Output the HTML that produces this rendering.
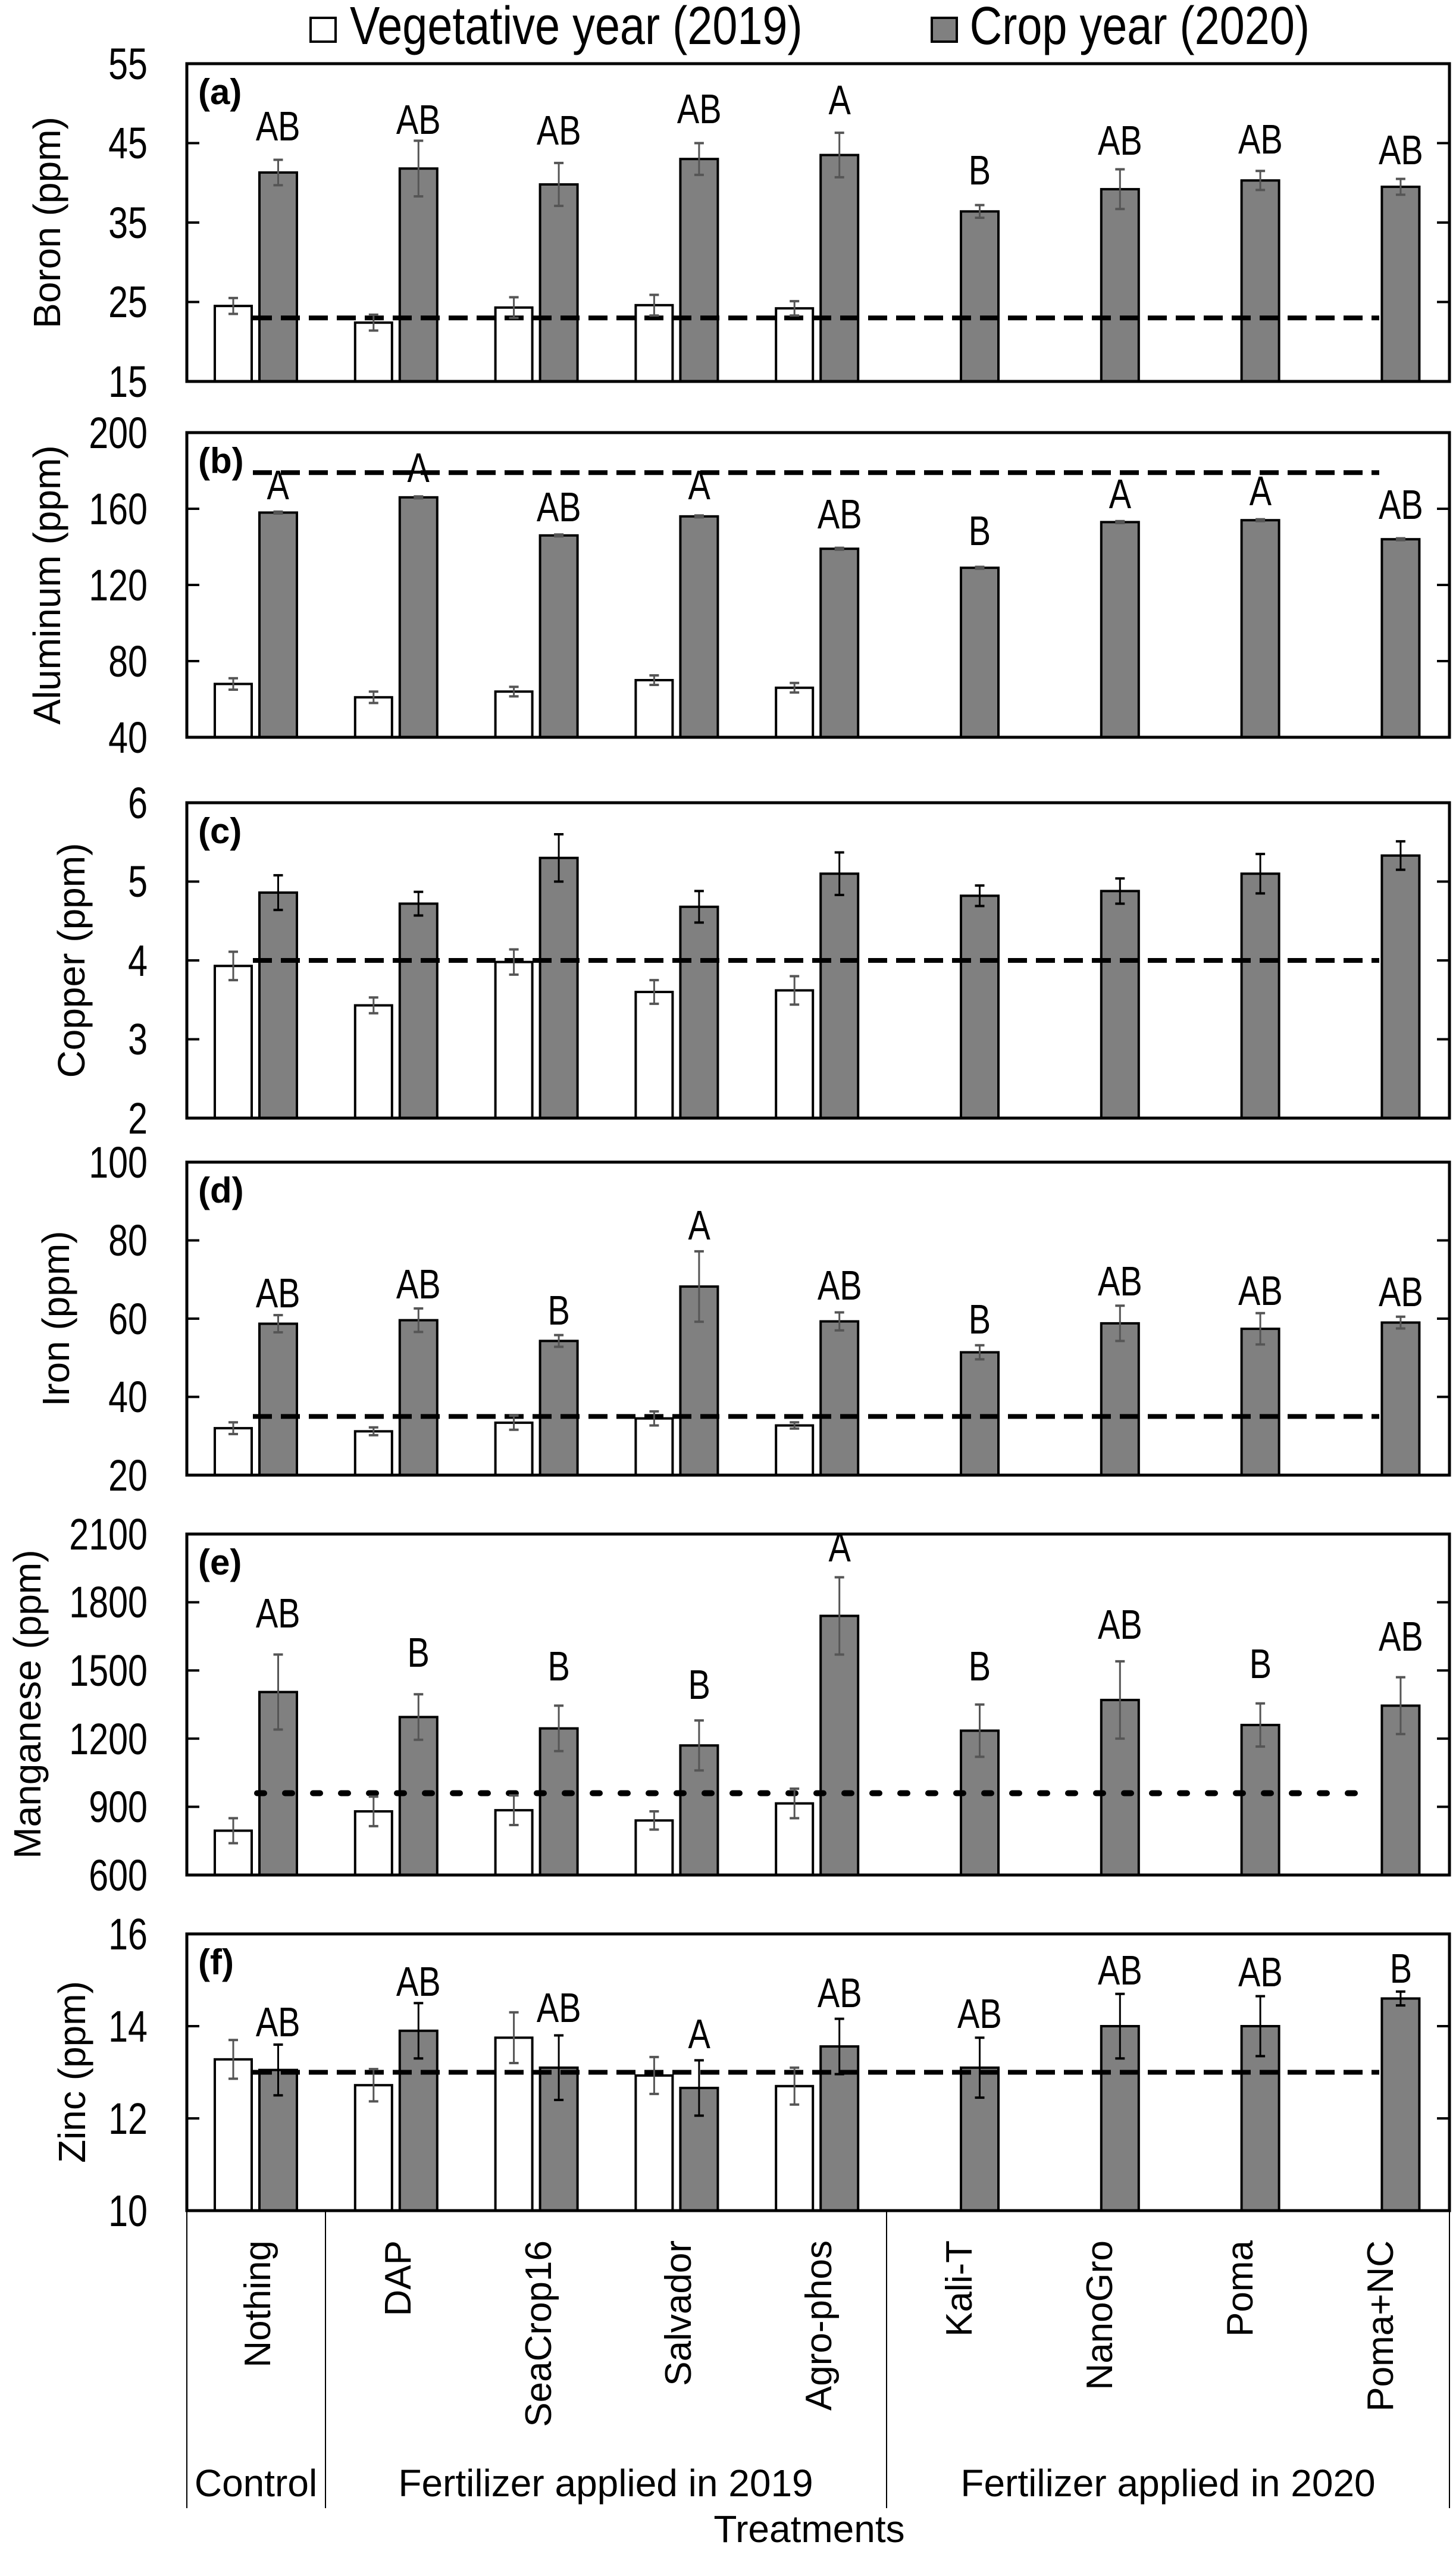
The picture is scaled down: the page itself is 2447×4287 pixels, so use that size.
<!DOCTYPE html>
<html><head><meta charset="utf-8"><style>
html,body{margin:0;padding:0;background:#fff;}
svg{display:block;}
text{font-family:"Liberation Sans",Arial,sans-serif;fill:#000;}
.tk{font-size:74px;text-anchor:end;}
.yt{font-size:64px;text-anchor:middle;}
.pl{font-size:60px;font-weight:bold;}
.lt{font-size:70px;text-anchor:middle;}
.cat{font-size:62px;text-anchor:end;}
.grp{font-size:64px;text-anchor:middle;}
</style></head><body>
<svg id="s" width="2447" height="4287" viewBox="0 0 2447 4287" xmlns="http://www.w3.org/2000/svg">
<rect x="0" y="0" width="2447" height="4287" fill="#fff"/>
<g id="g"></g>
<!-- legend -->
<rect x="522" y="30" width="42" height="40" fill="#fff" stroke="#000" stroke-width="4"/>
<rect x="1566" y="30" width="42" height="40" fill="#808080" stroke="#000" stroke-width="4"/>
<g transform="scale(0.84,1)">
<text x="700" y="74" style="font-size:90px">Vegetative year (2019)</text>
<text x="1940" y="74" style="font-size:90px">Crop year (2020)</text>
</g>

<!-- tick labels -->
<g class="tk" transform="scale(0.8,1)">
<text x="310" y="667">15</text><text x="310" y="533">25</text><text x="310" y="400">35</text><text x="310" y="266">45</text><text x="310" y="133">55</text>
<text x="310" y="1265">40</text><text x="310" y="1137">80</text><text x="310" y="1009">120</text><text x="310" y="881">160</text><text x="310" y="753">200</text>
<text x="310" y="1905">2</text><text x="310" y="1772">3</text><text x="310" y="1640">4</text><text x="310" y="1507">5</text><text x="310" y="1375">6</text>
<text x="310" y="2505">20</text><text x="310" y="2373">40</text><text x="310" y="2242">60</text><text x="310" y="2110">80</text><text x="310" y="1979">100</text>
<text x="310" y="3177">600</text><text x="310" y="3062">900</text><text x="310" y="2948">1200</text><text x="310" y="2833">1500</text><text x="310" y="2718">1800</text><text x="310" y="2604">2100</text>
<text x="310" y="3741">10</text><text x="310" y="3586">12</text><text x="310" y="3431">14</text><text x="310" y="3276">16</text>
</g>

<!-- y titles -->
<text class="yt" transform="translate(101,374) rotate(-90)">Boron (ppm)</text>
<text class="yt" transform="translate(101,983) rotate(-90)">Aluminum (ppm)</text>
<text class="yt" transform="translate(142,1614) rotate(-90)">Copper (ppm)</text>
<text class="yt" transform="translate(116,2216) rotate(-90)">Iron (ppm)</text>
<text class="yt" transform="translate(68,2864) rotate(-90)">Manganese (ppm)</text>
<text class="yt" transform="translate(143,3482) rotate(-90)">Zinc (ppm)</text>

<!-- panel letters -->
<text class="pl" x="333" y="175">(a)</text>
<text class="pl" x="333" y="795">(b)</text>
<text class="pl" x="333" y="1417">(c)</text>
<text class="pl" x="333" y="2021">(d)</text>
<text class="pl" x="333" y="2646">(e)</text>
<text class="pl" x="333" y="3318">(f)</text>

<!-- significance letters -->
<g class="lt" transform="scale(0.8,1)">
<text x="584" y="236">AB</text><text x="879" y="225">AB</text><text x="1174" y="243">AB</text><text x="1469" y="207">AB</text><text x="1764" y="192">A</text><text x="2058" y="310">B</text><text x="2353" y="260">AB</text><text x="2648" y="258">AB</text><text x="2943" y="276">AB</text>
<text x="584" y="839">A</text><text x="879" y="810">A</text><text x="1174" y="876">AB</text><text x="1469" y="839">A</text><text x="1764" y="888">AB</text><text x="2058" y="916">B</text><text x="2353" y="854">A</text><text x="2648" y="849">A</text><text x="2943" y="872">AB</text>
<text x="584" y="2197">AB</text><text x="879" y="2182">AB</text><text x="1174" y="2226">B</text><text x="1469" y="2083">A</text><text x="1764" y="2184">AB</text><text x="2058" y="2241">B</text><text x="2353" y="2177">AB</text><text x="2648" y="2193">AB</text><text x="2943" y="2195">AB</text>
<text x="584" y="2735">AB</text><text x="879" y="2801">B</text><text x="1174" y="2824">B</text><text x="1469" y="2855">B</text><text x="1764" y="2624">A</text><text x="2058" y="2824">B</text><text x="2353" y="2754">AB</text><text x="2648" y="2820">B</text><text x="2943" y="2774">AB</text>
<text x="584" y="3422">AB</text><text x="879" y="3354">AB</text><text x="1174" y="3398">AB</text><text x="1469" y="3442">A</text><text x="1764" y="3373">AB</text><text x="2058" y="3408">AB</text><text x="2353" y="3335">AB</text><text x="2648" y="3338">AB</text><text x="2943" y="3332">B</text>
</g>

<!-- category labels -->
<g class="cat">
<text transform="translate(454,3765) rotate(-90)">Nothing</text>
<text transform="translate(690,3765) rotate(-90)">DAP</text>
<text transform="translate(926,3765) rotate(-90)">SeaCrop16</text>
<text transform="translate(1161,3765) rotate(-90)">Salvador</text>
<text transform="translate(1397,3765) rotate(-90)">Agro-phos</text>
<text transform="translate(1633,3765) rotate(-90)">Kali-T</text>
<text transform="translate(1869,3765) rotate(-90)">NanoGro</text>
<text transform="translate(2105,3765) rotate(-90)">Poma</text>
<text transform="translate(2341,3765) rotate(-90)">Poma+NC</text>
</g>
<g stroke="#000" stroke-width="2">
<line x1="314" y1="3715" x2="314" y2="4215"/><line x1="547" y1="3715" x2="547" y2="4215"/>
<line x1="1490" y1="3715" x2="1490" y2="4215"/><line x1="2436" y1="3715" x2="2436" y2="4215"/>
</g>
<text class="grp" x="430" y="4195">Control</text>
<text class="grp" x="1018" y="4195">Fertilizer applied in 2019</text>
<text class="grp" x="1963" y="4195">Fertilizer applied in 2020</text>
<text class="grp" x="1360" y="4272">Treatments</text>
</svg>
<script>
(function(){
var NS="http://www.w3.org/2000/svg",G=document.getElementById("g");
function el(t,a){var e=document.createElementNS(NS,t);for(var k in a)e.setAttribute(k,a[k]);G.appendChild(e);return e;}
var L=314,R=2436,gw=235.8;
var P=[
{t:107,b:641,mn:15,mx:55,ticks:[25,35,45],dash:23,dot:0,
 w:[24.5,22.4,24.3,24.6,24.2],we:[1,1,1.3,1.3,0.9],
 g:[41.3,41.8,39.8,43.0,43.5,36.4,39.2,40.3,39.5],ge:[1.6,3.5,2.7,2,2.8,0.8,2.5,1.2,1],wc:"#555",gc:"#555"},
{t:727,b:1239,mn:40,mx:200,ticks:[80,120,160],dash:179,dot:0,
 w:[68,61,64,70,66],we:[3,3,2.5,2.5,2.5],
 g:[158,166,146,156,139,129,153,154,144],ge:[0.5,0.5,0.5,0.5,0.5,0.5,0.5,0.5,0.5],wc:"#555",gc:"#555"},
{t:1349,b:1879,mn:2,mx:6,ticks:[3,4,5],dash:4,dot:0,
 w:[3.93,3.43,3.98,3.6,3.62],we:[.18,.1,.16,.15,.18],
 g:[4.86,4.72,5.3,4.68,5.1,4.82,4.88,5.1,5.33],ge:[.22,.15,.3,.2,.27,.13,.16,.25,.18],wc:"#555",gc:"#000"},
{t:1953,b:2479,mn:20,mx:100,ticks:[40,60,80],dash:35,dot:0,
 w:[32,31.2,33.4,34.5,32.7],we:[1.5,1,1.8,1.8,0.8],
 g:[58.7,59.6,54.3,68.2,59.3,51.4,58.8,57.4,59],ge:[2.2,3,1.5,9,2.3,1.8,4.5,4,1.5],wc:"#555",gc:"#555"},
{t:2578,b:3151,mn:600,mx:2100,ticks:[900,1200,1500,1800],dash:960,dot:1,
 w:[795,880,885,840,915],we:[55,65,65,40,65],
 g:[1405,1295,1245,1170,1740,1235,1370,1260,1345],ge:[165,100,100,110,170,115,170,95,125],wc:"#555",gc:"#555"},
{t:3250,b:3715,mn:10,mx:16,ticks:[12,14],dash:13,dot:0,
 w:[13.28,12.72,13.75,12.93,12.7],we:[.42,.35,.55,.4,.4],
 g:[13.05,13.9,13.1,12.66,13.56,13.1,14,14,14.6],ge:[.55,.6,.7,.6,.6,.65,.7,.65,.15],wc:"#555",gc:"#000"}
];
P.forEach(function(p){
 function y(v){return p.b-(v-p.mn)*(p.b-p.t)/(p.mx-p.mn);}
 function bar(x,w,v,fill){el("rect",{x:x,y:y(v),width:w,height:p.b-y(v),fill:fill,stroke:"#000","stroke-width":4});}
 function err(cx,v,e,c){var a=y(v+e),b=y(v-e);
  el("line",{x1:cx,y1:a,x2:cx,y2:b,stroke:c,"stroke-width":3});
  el("line",{x1:cx-8,y1:a,x2:cx+8,y2:a,stroke:c,"stroke-width":4});
  el("line",{x1:cx-8,y1:b,x2:cx+8,y2:b,stroke:c,"stroke-width":4});}
 for(var i=0;i<9;i++){var g0=L+gw*i;
  if(i<5){bar(g0+47,62,p.w[i],"#fff");}
  bar(g0+122,63,p.g[i],"#808080");
 }
 var dy=y(p.dash);
 if(p.dot) el("line",{x1:432,y1:dy,x2:2310,y2:dy,stroke:"#000","stroke-width":10,"stroke-dasharray":"12 35","stroke-linecap":"round"});
 else el("line",{x1:425,y1:dy,x2:2318,y2:dy,stroke:"#000","stroke-width":8,"stroke-dasharray":"32 15"});
 for(var i=0;i<9;i++){var g0=L+gw*i;
  if(i<5) err(g0+78,p.w[i],p.we[i],p.wc);
  err(g0+153.5,p.g[i],p.ge[i],p.gc);
 }
 p.ticks.forEach(function(v){var ty=y(v);
  el("line",{x1:L,y1:ty,x2:L+21,y2:ty,stroke:"#000","stroke-width":4});
  el("line",{x1:R-21,y1:ty,x2:R,y2:ty,stroke:"#000","stroke-width":4});});
 el("rect",{x:L,y:p.t,width:R-L,height:p.b-p.t,fill:"none",stroke:"#000","stroke-width":5});
});
})();
</script>
</body></html>
